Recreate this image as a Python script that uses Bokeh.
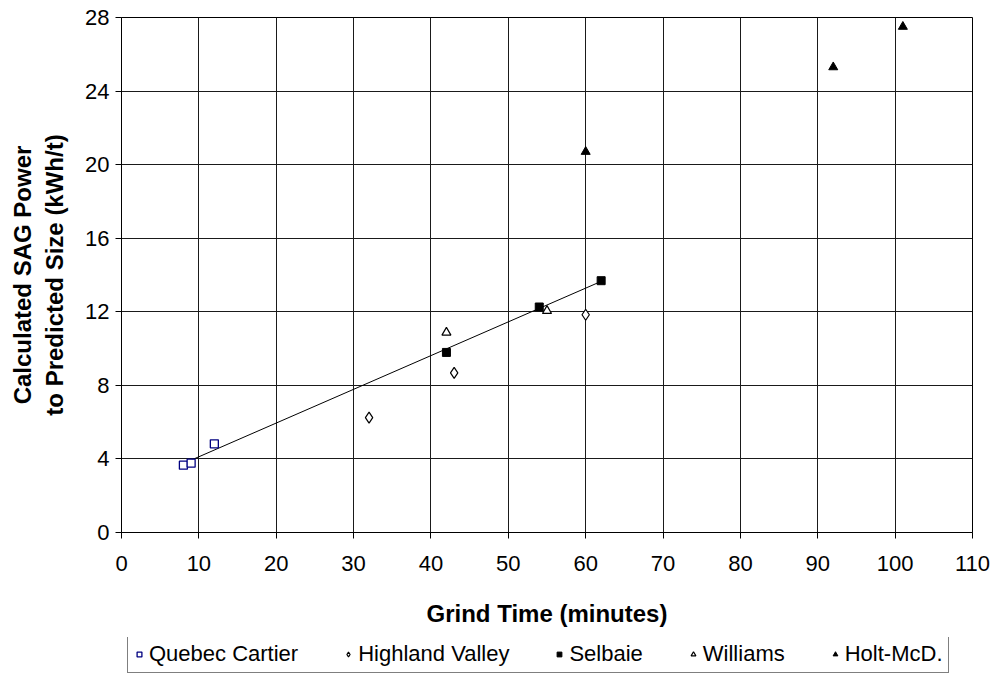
import numpy as np
from bokeh.plotting import figure
from bokeh.layouts import column
from bokeh.models import Range1d, FixedTicker, Legend, LegendItem
from bokeh.embed import file_html
from bokeh.resources import INLINE

# ---- data ----
qc_x = [8, 9, 12]
qc_y = [3.66, 3.77, 4.82]
hv_x = [32, 43, 60]
hv_y = [6.25, 8.68, 11.84]
se_x = [42, 54, 62]
se_y = [9.79, 12.26, 13.69]
wi_x = [42, 55]
wi_y = [10.87, 12.05]
ho_x = [60, 92, 101]
ho_y = [20.7, 25.3, 27.5]

series_names = ["Quebec Cartier", "Highland Valley", "Selbaie", "Williams", "Holt-McD."]
x_ticks = list(range(0, 111, 10))
y_ticks = list(range(0, 29, 4))
x_title = "Grind Time (minutes)"
y_title = "Calculated SAG Power\nto Predicted Size (kWh/t)"

FONT = "Liberation Sans"

styles = [
    dict(marker="square", size=8, fill_color="white", line_color="#000080", line_width=1.3),
    dict(marker="diamond", size=11, fill_color="white", line_color="black", line_width=1.2),
    dict(marker="square", size=8, fill_color="black", line_color="black", line_width=1),
    dict(marker="triangle", size=9, fill_color="white", line_color="black", line_width=1.2),
    dict(marker="triangle", size=9, fill_color="black", line_color="black", line_width=1),
]
series = [(qc_x, qc_y), (hv_x, hv_y), (se_x, se_y), (wi_x, wi_y), (ho_x, ho_y)]

p = figure(width=995, height=637, output_backend="svg", toolbar_location=None,
           x_range=Range1d(0, 110), y_range=Range1d(0, 28),
           min_border_left=121, min_border_right=23, min_border_top=17,
           min_border_bottom=105)
p.background_fill_color = "white"
p.border_fill_color = "white"
p.outline_line_color = "black"
p.outline_line_alpha = 1.0

# trendline: linear fit through Quebec Cartier + Selbaie points
fx = np.array(qc_x + se_x, dtype=float)
fy = np.array(qc_y + se_y, dtype=float)
coef = np.polyfit(fx, fy, 1)
tx = np.array([fx.min(), fx.max()])
ty = np.polyval(coef, tx)
p.line(tx, ty, line_color="black", line_width=1)

for (sx, sy), st in zip(series, styles):
    p.scatter(sx, sy, **st)

for ax, ticks in ((p.xaxis, x_ticks), (p.yaxis, y_ticks)):
    ax.ticker = FixedTicker(ticks=ticks)
    ax.major_label_text_font = FONT
    ax.major_label_text_font_size = "22px"
    ax.major_label_text_color = "black"
    ax.axis_line_color = "black"
    ax.major_tick_line_color = "black"
    ax.minor_tick_line_color = None
    ax.major_tick_out = 6
    ax.major_tick_in = 0
    ax.axis_label_text_font = FONT
    ax.axis_label_text_font_size = "24px"
    ax.axis_label_text_font_style = "bold"
    ax.axis_label_text_color = "black"

p.xaxis.axis_label = x_title
p.yaxis.axis_label = y_title
p.xaxis.major_label_standoff = 17
p.xaxis.axis_label_standoff = 26
p.yaxis.major_label_standoff = 6
p.yaxis.axis_label_standoff = 14

p.xgrid.grid_line_color = "#1a1a1a"
p.xgrid.grid_line_alpha = 1.0
p.ygrid.grid_line_color = "#1a1a1a"
p.ygrid.grid_line_alpha = 1.0

# ---- legend strip below the chart (its own series copies lie outside its view) ----
lg = figure(width=995, height=36, output_backend="svg", toolbar_location=None,
            x_range=Range1d(200, 201), y_range=Range1d(200, 201),
            x_axis_type=None, y_axis_type=None, min_border=0)
lg.outline_line_color = None
lg.background_fill_color = "white"
lg.border_fill_color = "white"
lg.xgrid.visible = False
lg.ygrid.visible = False
lg_renderers = [lg.scatter(sx, sy, **st) for (sx, sy), st in zip(series, styles)]
items = [LegendItem(label=n, renderers=[r]) for n, r in zip(series_names, lg_renderers)]
legend = Legend(items=items, orientation="horizontal", location=(6, 0),
                label_text_font=FONT, label_text_font_size="22px",
                label_text_color="black",
                border_line_color="black", border_line_width=1,
                background_fill_color="white", background_fill_alpha=1.0,
                glyph_width=12, glyph_height=16, label_standoff=4,
                spacing=44, padding=5, margin=0)
lg.add_layout(legend)

layout = column(p, lg, spacing=0)
open("out.html", "w").write(file_html(layout, INLINE))
